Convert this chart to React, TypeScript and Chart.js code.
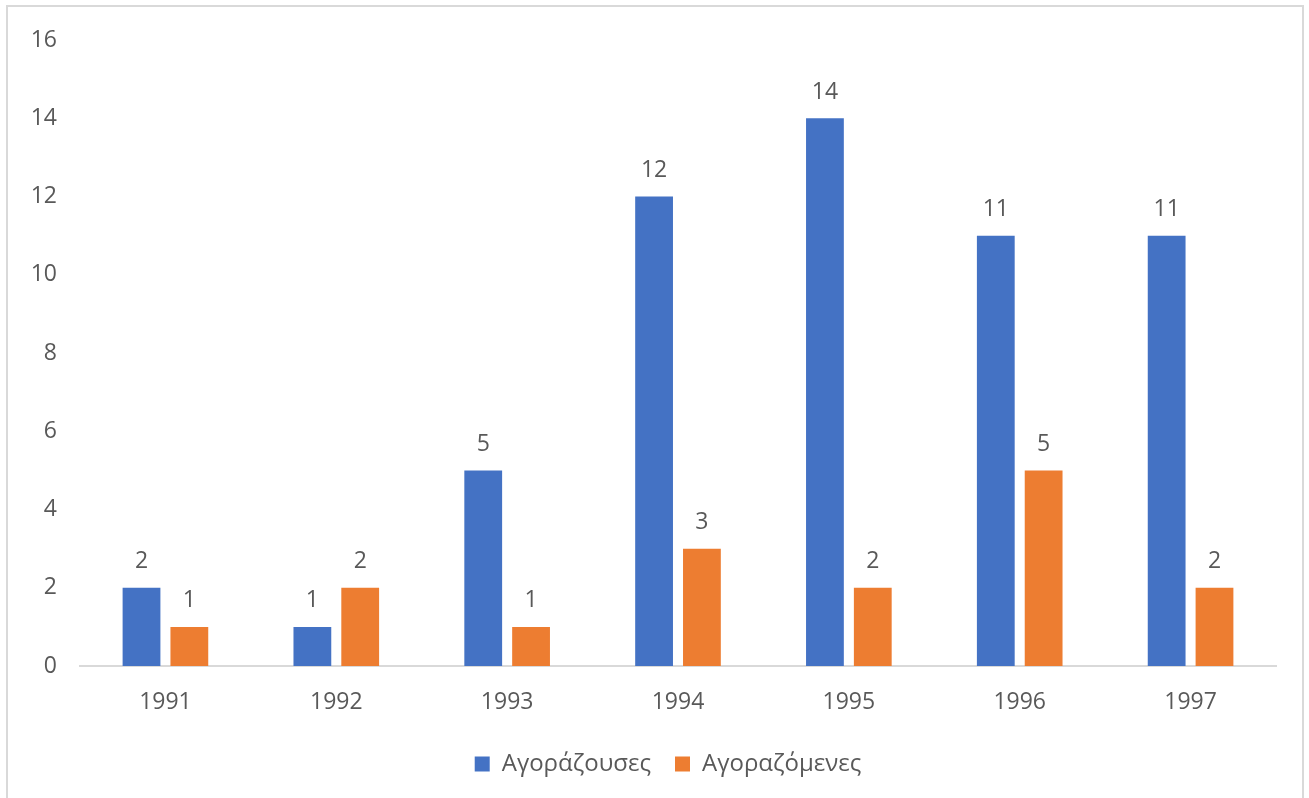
import React, { useEffect, useRef } from "react";
import { Chart, registerables } from "chart.js";

Chart.register(...registerables);

const years = ["1991", "1992", "1993", "1994", "1995", "1996", "1997"];
const buyers = [2, 1, 5, 12, 14, 11, 11];
const acquired = [1, 2, 1, 3, 2, 5, 2];
const seriesNames = ["Αγοράζουσες", "Αγοραζόμενες"];
const yTicks = [0, 2, 4, 6, 8, 10, 12, 14, 16];

const FONT = "'Open Sans', 'Noto Sans', sans-serif";
const TEXT = "#595959";
const SIZE = 23;

const dataLabels = {
  id: "dataLabels",
  afterDatasetsDraw(chart: any) {
    const ctx = chart.ctx;
    ctx.save();
    ctx.font = `${SIZE}px ${FONT}`;
    ctx.fillStyle = TEXT;
    ctx.textAlign = "center";
    ctx.textBaseline = "middle";
    chart.data.datasets.forEach((ds: any, i: number) => {
      const meta = chart.getDatasetMeta(i);
      meta.data.forEach((bar: any, j: number) => {
        ctx.fillText(String(ds.data[j]), bar.x, bar.y - 26);
      });
    });
    ctx.restore();
  },
};

const legendShift = {
  id: "legendShift",
  afterLayout(chart: any) {
    if (chart.legend) {
      chart.legend.left += 30;
      chart.legend.right += 30;
    }
  },
};

export default function App() {
  const ref = useRef<HTMLCanvasElement>(null);
  useEffect(() => {
    const chart = new Chart(ref.current!, {
      type: "bar",
      data: {
        labels: years,
        datasets: [
          {
            label: seriesNames[0],
            data: buyers,
            backgroundColor: "#4472C4",
            categoryPercentage: 0.56,
            barPercentage: 0.79,
          },
          {
            label: seriesNames[1],
            data: acquired,
            backgroundColor: "#ED7D31",
            categoryPercentage: 0.56,
            barPercentage: 0.79,
          },
        ],
      },
      options: {
        animation: false,
        responsive: false,
        maintainAspectRatio: false,
        layout: { padding: { left: 0, right: 33, top: 40, bottom: 12 } },
        plugins: {
          tooltip: { enabled: false },
          legend: {
            position: "bottom",
            labels: {
              boxWidth: 15,
              boxHeight: 15,
              padding: 24,
              color: TEXT,
              font: { family: FONT, size: 24 },
            },
          },
        },
        scales: {
          x: {
            grid: { display: false, drawTicks: false },
            border: { display: true, color: "#d9d9d9", width: 2 },
            ticks: { color: TEXT, font: { family: FONT, size: SIZE }, padding: 23 },
            afterFit(scale: any) {
              scale.height = 62;
            },
          },
          y: {
            min: 0,
            max: 16,
            afterBuildTicks(scale: any) {
              scale.ticks = yTicks.map((v) => ({ value: v }));
            },
            grid: { display: false, drawTicks: false },
            border: { display: false },
            ticks: { color: TEXT, font: { family: FONT, size: SIZE }, padding: 23 },
            afterFit(scale: any) {
              scale.width = 80;
            },
          },
        },
      },
      plugins: [dataLabels, legendShift],
    });
    return () => chart.destroy();
  }, []);
  return (
    <div style={{ position: "fixed", left: 0, top: 0, width: 1309, height: 798, background: "#fff" }}>
      <canvas ref={ref} width={1309} height={798} style={{ position: "absolute", left: 0, top: 0 }} />
      <div
        style={{
          position: "absolute",
          left: 6,
          top: 5,
          width: 1294,
          height: 810,
          border: "2px solid #d9d9d9",
          pointerEvents: "none",
        }}
      />
    </div>
  );
}
